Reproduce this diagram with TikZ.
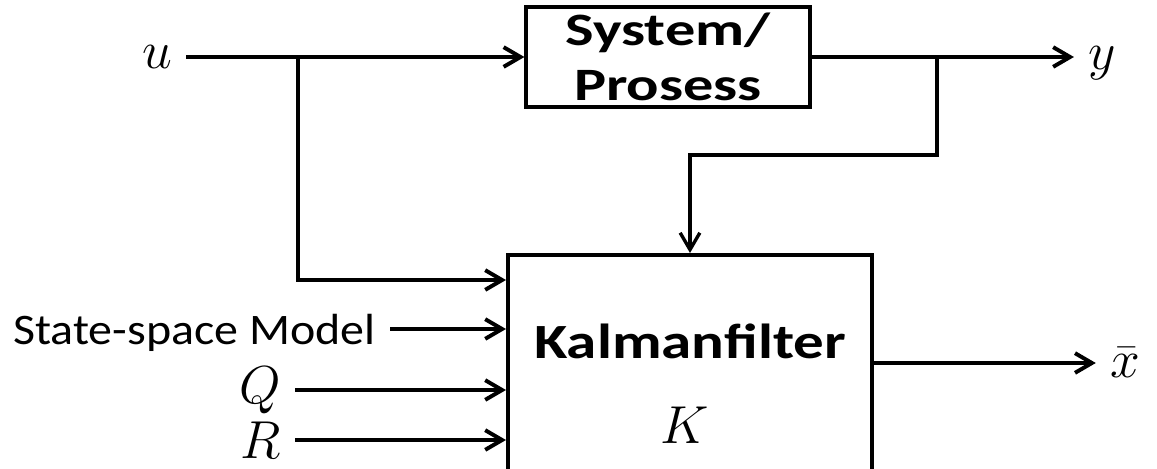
\RequirePackage{fix-cm}
\documentclass[tikz,border=0pt]{standalone}
\usepackage{fontspec}
\setmainfont{Carlito}
\usepackage{graphicx}
\usepackage{tikz}
\usetikzlibrary{arrows.meta,calc}
\tikzset{
    block/.style={draw, line width=2.8pt, inner sep=0pt, font=\fontsize{33}{39}\selectfont\bfseries, align=center},
    sig/.style={line width=2.8pt, -{Straight Barb[length=12pt,width=14pt]}},
    lbl/.style={inner xsep=10pt, inner ysep=0pt, font=\fontsize{38}{38}\selectfont}}

\begin{document}
\begin{tikzpicture}[x=0.025cm,y=-0.025cm]
\useasboundingbox (0,0) rectangle (1157,468);

%blocks
\node[block, minimum width=7.08cm, minimum height=2.5cm] (sys) at (668,57) {\scalebox{1.3}[1]{System/}\\\scalebox{1.3}[1]{Prosess}};
\node[block, minimum width=9.1cm, minimum height=5.4cm] (kal) at (690,363) {};
\node[font=\fontsize{35}{35}\selectfont\bfseries, anchor=base] (kaltxt) at (690,358) {\scalebox{1.24}[1]{Kalmanfilter}};
\node[lbl, anchor=base] (gain) at (685,443) {$K$};

%signals
\node[lbl] (u) at (157,57) {$u$};
\node[lbl] (y) at (1102,63) {$y$};
\node[lbl] (xbar) at (1125,363) {$\bar{x}$};
\node[lbl, font=\fontsize{31}{31}\selectfont, anchor=east, text depth=0pt] (ss) at (390,329) {\scalebox{1.1}[1]{State-space Model}};
\node[lbl] (q) at (260,390) {$Q$};
\node[lbl] (r) at (261,440) {$R$};

\coordinate (br) at (298,57);
\coordinate (brk) at (298,280);
\coordinate (jn) at (937,57);
\coordinate (fb) at (690,155);

%draw lines
\draw[sig] (u) -- (sys);
\draw[sig] (sys.east) -- (sys.east -| y.west);
\draw[sig] (br) -- (brk) -- (brk -| kal.west);
\draw[sig, line width=2.4pt] (jn) |- (fb) -- (kal.north);
\draw[sig] (ss) -- (ss -| kal.west);
\draw[sig] (q) -- (q -| kal.west);
\draw[sig] (r) -- (r -| kal.west);
\draw[sig] (kal) -- (xbar);

\end{tikzpicture}
\end{document}
